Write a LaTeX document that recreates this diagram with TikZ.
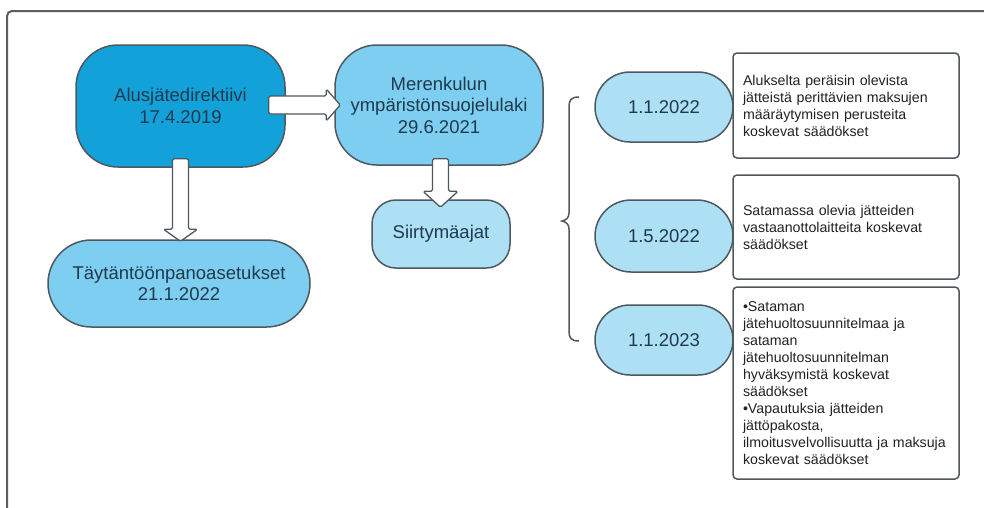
\documentclass[tikz,border=0pt]{standalone}
\usepackage{fontspec}
\setmainfont{Liberation Sans}
\usetikzlibrary{calc,shapes.misc}
\definecolor{dkblue}{HTML}{12A1D8}
\definecolor{mdblue}{HTML}{7DCEF0}
\definecolor{ltblue}{HTML}{ADE0F5}
\definecolor{edgegray}{HTML}{4E585E}
\definecolor{txtblue}{HTML}{1E3A4C}
\definecolor{framegray}{HTML}{5E5E5E}
\definecolor{boxtext}{HTML}{222222}
\begin{document}
\begin{tikzpicture}[x=1pt,y=-1pt,
  pill/.style={draw=edgegray, line width=1.5pt, align=center, text=txtblue,
    font=\fontsize{18.5}{21.5}\selectfont, inner sep=0pt},
  stadium/.style={pill, rounded rectangle, rounded rectangle arc length=180},
  notebox/.style={draw=edgegray, line width=1.5pt, rounded corners=4pt, fill=white,
    text width=206pt, inner xsep=10pt, inner ysep=0pt, align=left,
    font=\fontsize{14.2}{17}\selectfont, text=boxtext, minimum width=226pt},
  blockarrow/.style={draw=edgegray, fill=white, line width=1.3pt, rounded corners=1.5pt, line join=round},
  bracket/.style={draw=edgegray, line width=1.5pt}]

\useasboundingbox (0,0) rectangle (984,507);
\clip (0,0) rectangle (984,507);
\draw[framegray, line width=2pt, rounded corners=5pt] (7,11) rectangle (1010,530);

% main nodes
\node[pill, fill=dkblue, minimum width=209pt, minimum height=122pt, rounded corners=42pt]
  (a) at (180.5,106) {Alusjätedirektiivi\\17.4.2019};
\node[stadium, fill=mdblue, minimum width=262pt, minimum height=87pt]
  (t) at (179,283.5) {Täytäntöönpanoasetukset\\21.1.2022};
\node[pill, fill=mdblue, minimum width=208pt, minimum height=120pt, rounded corners=42pt]
  (m) at (439,105) {Merenkulun\\ympäristönsuojelulaki\\29.6.2021};
\node[pill, fill=ltblue, minimum width=138pt, minimum height=68pt, rounded corners=24pt]
  (s) at (441,234) {Siirtymäajat};

% date nodes
\node[stadium, fill=ltblue, minimum width=138pt, minimum height=70pt]
  (d1) at (664,107) {1.1.2022};
\node[stadium, fill=ltblue, minimum width=138pt, minimum height=72pt]
  (d2) at (664,236) {1.5.2022};
\node[stadium, fill=ltblue, minimum width=138pt, minimum height=70pt]
  (d3) at (664,340) {1.1.2023};

% note boxes
\node[notebox, minimum height=105pt] (b1) at (846,105.5)
  {Alukselta peräisin olevista\\jätteistä perittävien maksujen\\määräytymisen perusteita\\koskevat säädökset};
\node[notebox, minimum height=104pt] (b2) at (846,227)
  {Satamassa olevia jätteiden\\vastaanottolaitteita koskevat\\säädökset};
\node[notebox, minimum height=192pt] (b3) at (846,383)
  {•Sataman\\jätehuoltosuunnitelmaa ja\\sataman\\jätehuoltosuunnitelman\\hyväksymistä koskevat\\säädökset\\•Vapautuksia jätteiden\\jättöpakosta,\\ilmoitusvelvollisuutta ja maksuja\\koskevat säädökset};

% block arrows
\draw[blockarrow] ($(a.east |- m.west)+(-17,-9)$) -- ($(m.west)+(-8,-9)$) -- ($(m.west)+(-8,-16)$)
  -- ($(m.west)+(6,0)$) -- ($(m.west)+(-8,16)$) -- ($(m.west)+(-8,9)$)
  -- ($(a.east |- m.west)+(-17,9)$) -- cycle;

\coordinate (at) at (a.south |- t.north);
\draw[blockarrow] ($(a.south)+(-8,-9)$) -- ($(at)+(-8,-10)$) -- ($(at)+(-17,-10)$)
  -- ($(at)+(0,2)$) -- ($(at)+(17,-10)$) -- ($(at)+(8,-10)$)
  -- ($(a.south)+(8,-9)$) -- cycle;

\coordinate (ms) at ($(m.south |- s.north)+(1.5,0)$);
\draw[blockarrow] ($(m.south)+(9.5,-7)$) -- ($(ms)+(8,-8)$) -- ($(ms)+(17.5,-8)$)
  -- ($(ms)+(0,8)$) -- ($(ms)+(-17.5,-8)$) -- ($(ms)+(-8,-8)$)
  -- ($(m.south)+(-6.5,-7)$) -- cycle;

% bracket
\coordinate (brtop) at (579,97);
\coordinate (brtip) at (562,221);
\coordinate (brbot) at (579,341);
\draw[bracket] (brtop) .. controls (571,97) and (569,100) .. (569,107) -- (569,213)
  .. controls (569,218) and (566,220) .. (brtip)
  .. controls (566,222) and (569,224) .. (569,229) -- (569,331)
  .. controls (569,338) and (571,341) .. (brbot);
\end{tikzpicture}
\end{document}
